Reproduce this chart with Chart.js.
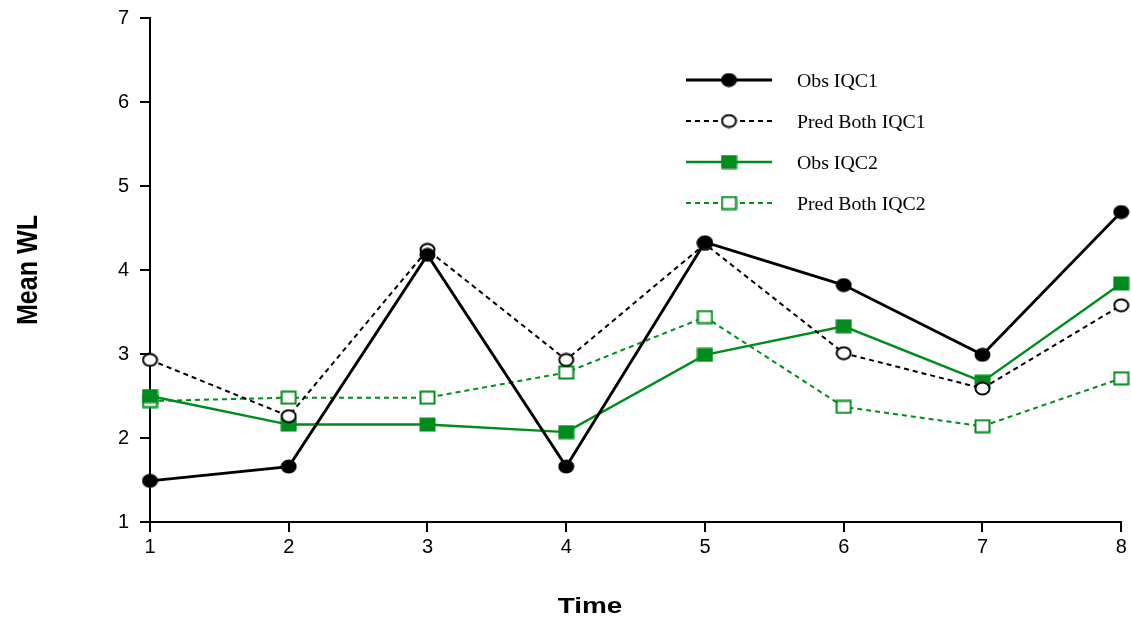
<!DOCTYPE html>
<html>
<head>
<meta charset="utf-8">
<script src="https://cdn.jsdelivr.net/npm/chart.js@4"></script>
<style>
  html, body { margin: 0; padding: 0; background: #fff; }
  #wrap { width: 1131px; height: 619px; }
</style>
</head>
<body>
<div id="wrap"><canvas id="grafico" width="1131" height="619"></canvas></div>
<script>
// datos
const tiempos = ['1', '2', '3', '4', '5', '6', '7', '8'];
const obsIQC1 = [1.49, 1.66, 4.18, 1.66, 4.33, 3.82, 2.99, 4.69];
const predIQC1 = [2.93, 2.26, 4.24, 2.93, 4.31, 3.01, 2.59, 3.58];
const obsIQC2 = [2.50, 2.16, 2.16, 2.07, 2.99, 3.33, 2.67, 3.84];
const predIQC2 = [2.44, 2.48, 2.48, 2.78, 3.44, 2.37, 2.14, 2.71];
const ticksY = [1, 2, 3, 4, 5, 6, 7];

const VERDE = '#008c1c';

// marcadores como imagenes (un poco achatados como en el original)
function marcador(forma, relleno, borde) {
    const c = document.createElement('canvas');
    c.width = 17; c.height = 15;
    const g = c.getContext('2d');
    g.lineWidth = 2;
    g.fillStyle = relleno;
    g.strokeStyle = borde;
    if (forma === 'circulo') {
        g.beginPath();
        g.ellipse(8.5, 7.5, 7, 6, 0, 0, Math.PI * 2);
        g.fill(); g.stroke();
    } else {
        g.fillRect(1.5, 1.5, 14, 12);
        g.strokeRect(1.5, 1.5, 14, 12);
    }
    return c;
}

const series = [
    { label: 'Obs IQC1', data: obsIQC1, color: '#000', ancho: 2.8, dash: [], punto: marcador('circulo', '#000', '#000') },
    { label: 'Pred Both IQC1', data: predIQC1, color: '#000', ancho: 2, dash: [5, 4], punto: marcador('circulo', '#fff', '#000') },
    { label: 'Obs IQC2', data: obsIQC2, color: VERDE, ancho: 2.4, dash: [], punto: marcador('cuadro', VERDE, VERDE) },
    { label: 'Pred Both IQC2', data: predIQC2, color: VERDE, ancho: 2, dash: [5, 4], punto: marcador('cuadro', '#fff', VERDE) }
];

// leyenda y titulos dibujados a mano (el texto original sale algo estirado a lo ancho)
const extras = {
    id: 'extras',
    afterDraw(chart) {
        const ctx = chart.ctx;
        ctx.save();
        series.forEach((s, i) => {
            const y = 80 + i * 41;
            ctx.strokeStyle = s.color;
            ctx.lineWidth = s.ancho;
            ctx.setLineDash(s.dash);
            ctx.beginPath();
            ctx.moveTo(686, y);
            ctx.lineTo(772, y);
            ctx.stroke();
            ctx.setLineDash([]);
            ctx.drawImage(s.punto, 729 - 8.5, y - 7.5);

            ctx.save();
            ctx.translate(797, y + 6.5);
            ctx.scale(1.1, 1);
            ctx.fillStyle = '#000';
            ctx.font = '18px "Liberation Serif"';
            ctx.textBaseline = 'alphabetic';
            ctx.textAlign = 'left';
            ctx.fillText(s.label, 0, 0);
            ctx.restore();
        });

        ctx.fillStyle = '#000';
        ctx.font = 'bold 22px "Liberation Sans"';
        ctx.textAlign = 'center';
        ctx.textBaseline = 'alphabetic';
        ctx.save();
        ctx.translate(590, 613);
        ctx.scale(1.27, 1);
        ctx.fillText('Time', 0, 0);
        ctx.restore();

        ctx.translate(37, 270);
        ctx.rotate(-Math.PI / 2);
        ctx.scale(1.14, 1.3);
        ctx.fillText('Mean WL', 0, 0);
        ctx.restore();
    }
};

new Chart(document.getElementById('grafico'), {
    type: 'line',
    data: {
        labels: tiempos,
        datasets: series.map(s => ({
            label: s.label,
            data: s.data,
            borderColor: s.color,
            backgroundColor: s.color,
            borderWidth: s.ancho,
            borderDash: s.dash,
            pointStyle: s.punto,
            pointRadius: 7,
            tension: 0,
            clip: false
        }))
    },
    options: {
        responsive: false,
        animation: false,
        layout: { padding: { top: 18, right: 8, left: 0, bottom: 0 } },
        plugins: { legend: { display: false }, tooltip: { enabled: false } },
        scales: {
            x: {
                offset: false,
                grid: { display: true, drawOnChartArea: false, color: '#000', lineWidth: 2, tickLength: 10 },
                border: { color: '#000', width: 2 },
                ticks: { color: '#000', font: { family: 'Liberation Sans', size: 20 }, padding: 3, maxRotation: 0 },
                afterFit: s => { s.height = 97; s.paddingLeft = 0; s.paddingRight = 0; }
            },
            y: {
                min: 1,
                max: 7,
                afterBuildTicks: s => { s.ticks = ticksY.map(v => ({ value: v })); },
                grid: { display: true, drawOnChartArea: false, color: '#000', lineWidth: 2, tickLength: 10 },
                border: { color: '#000', width: 2 },
                ticks: { color: '#000', font: { family: 'Liberation Sans', size: 20 }, padding: 11 },
                afterFit: s => { s.width = 150; s.paddingTop = 0; s.paddingBottom = 0; }
            }
        }
    },
    plugins: [extras]
});
</script>
</body>
</html>
